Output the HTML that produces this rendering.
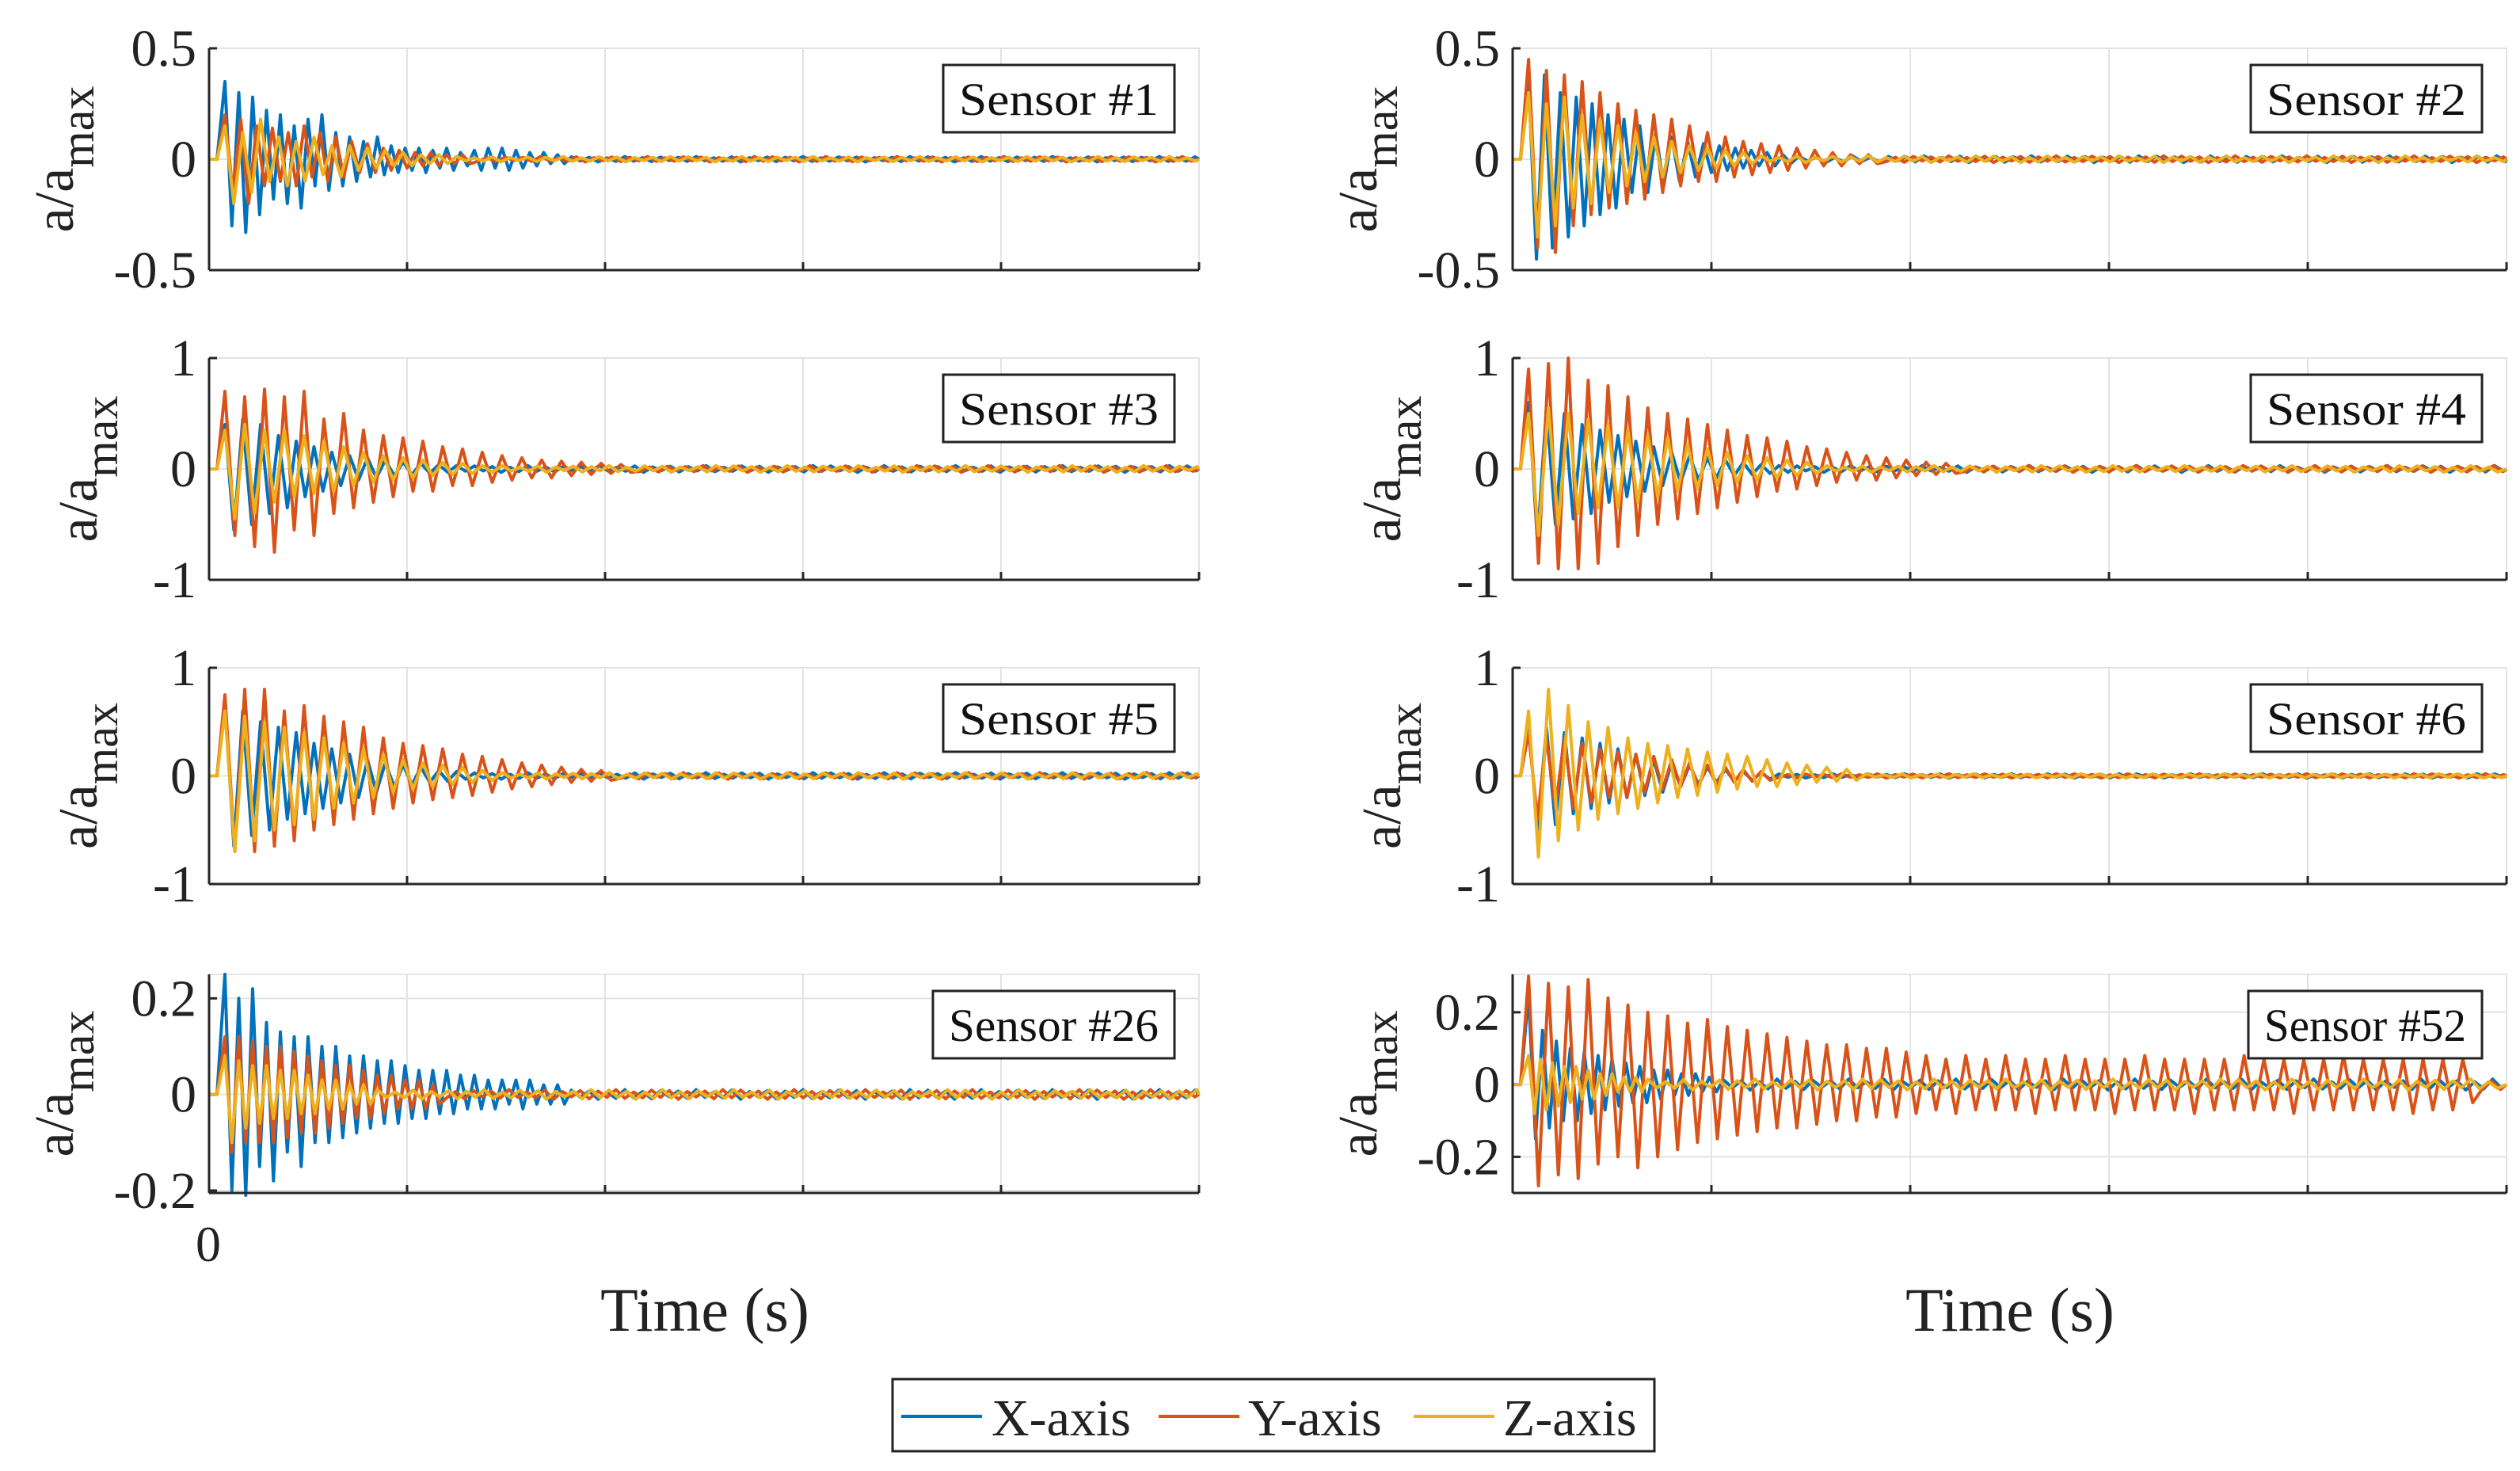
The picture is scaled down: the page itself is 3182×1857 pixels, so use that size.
<!DOCTYPE html>
<html><head><meta charset="utf-8">
<style>
html,body{margin:0;padding:0;background:#fff;}
svg{display:block;font-family:"Liberation Serif",serif;}
</style></head>
<body>
<svg id="fig" width="3182" height="1857" viewBox="0 0 3182 1857" xmlns="http://www.w3.org/2000/svg">
<rect width="3182" height="1857" fill="#fff"/>
<g id="panels"></g>
<text x="263" y="1592" font-size="64" text-anchor="middle" fill="#222">0</text>
<text x="890" y="1680" font-size="78" text-anchor="middle" fill="#222">Time (s)</text>
<text x="2538" y="1680" font-size="78" text-anchor="middle" fill="#222">Time (s)</text>
<g>
<rect x="1127" y="1741" width="962" height="91" fill="#fff" stroke="#222" stroke-width="3"/>
<line x1="1138" y1="1788" x2="1240" y2="1788" stroke="#0072BD" stroke-width="4"/>
<text x="1252" y="1812" font-size="66" fill="#222">X-axis</text>
<line x1="1463" y1="1788" x2="1565" y2="1788" stroke="#D95319" stroke-width="4"/>
<text x="1576" y="1812" font-size="66" fill="#222">Y-axis</text>
<line x1="1785" y1="1788" x2="1887" y2="1788" stroke="#EDB120" stroke-width="4"/>
<text x="1898" y="1812" font-size="66" fill="#222">Z-axis</text>
</g>
</svg>
<script>
const s1X=[0.35,-0.3,0.3,-0.33,0.28,-0.25,0.22,-0.18,0.2,-0.2,0.15,-0.22,0.18,-0.12,0.2,-0.14,0.12,-0.12,0.1,-0.1,0.08,-0.08,0.1,-0.07,0.06,-0.06,0.05,-0.05,0.05,-0.06,0.04,-0.04,0.05,-0.05,0.03,-0.03,0.04,-0.05,0.05,-0.04,0.05,-0.05,0.04,-0.04,0.03,-0.03,0.03,-0.02,0.02,-0.02];
const s1Y=[0.2,-0.15,0.18,-0.2,0.15,-0.12,0.14,-0.1,0.12,-0.12,0.15,-0.08,0.12,-0.1,0.1,-0.08,0.08,-0.06,0.07,-0.06,0.05,-0.05,0.04,-0.04,0.03,-0.03,0.03,-0.03,0.02,-0.02,0.02,-0.02];
const s1Z=[0.15,-0.2,0.12,-0.15,0.18,-0.1,0.1,-0.12,0.08,-0.1,0.1,-0.07,0.06,-0.08,0.06,-0.05,0.05,-0.04,0.04,-0.03,0.03,-0.03,0.02,-0.02,0.02,-0.02];
const s2X=[0.35,-0.45,0.38,-0.4,0.3,-0.35,0.28,-0.3,0.25,-0.25,0.2,-0.22,0.18,-0.15,0.15,-0.15,0.12,-0.12,0.1,-0.1,0.08,-0.08,0.07,-0.06,0.06,-0.05,0.05,-0.04,0.04,-0.03,0.03,-0.03,0.02,-0.02];
const s2Y=[0.45,-0.4,0.4,-0.42,0.38,-0.3,0.35,-0.25,0.3,-0.22,0.25,-0.2,0.22,-0.18,0.2,-0.15,0.18,-0.12,0.15,-0.1,0.12,-0.1,0.1,-0.08,0.08,-0.07,0.07,-0.06,0.06,-0.05,0.05,-0.04,0.04,-0.03,0.03,-0.03,0.02,-0.02,0.02,-0.02];
const s2Z=[0.3,-0.35,0.25,-0.3,0.28,-0.22,0.2,-0.2,0.18,-0.15,0.15,-0.12,0.12,-0.1,0.1,-0.08,0.08,-0.06,0.06,-0.05,0.05,-0.04,0.04,-0.03,0.03,-0.02];
const s3X=[0.4,-0.55,0.45,-0.5,0.4,-0.4,0.3,-0.35,0.25,-0.25,0.2,-0.2,0.15,-0.15,0.12,-0.1,0.1,-0.08,0.08,-0.06,0.06,-0.05,0.05,-0.04,0.04,-0.03,0.03,-0.02];
const s3Y=[0.7,-0.6,0.65,-0.7,0.72,-0.75,0.65,-0.55,0.7,-0.6,0.45,-0.4,0.5,-0.35,0.35,-0.3,0.3,-0.25,0.28,-0.2,0.25,-0.2,0.2,-0.15,0.18,-0.15,0.15,-0.12,0.12,-0.1,0.1,-0.08,0.08,-0.08,0.07,-0.06,0.06,-0.05,0.05,-0.04,0.04,-0.03];
const s3Z=[0.35,-0.45,0.4,-0.4,0.35,-0.3,0.35,-0.25,0.3,-0.22,0.25,-0.2,0.2,-0.15,0.15,-0.12,0.12,-0.1,0.1,-0.08,0.08,-0.06,0.06,-0.05,0.05,-0.04,0.03,-0.03];
const s4X=[0.6,-0.65,0.55,-0.5,0.5,-0.45,0.4,-0.4,0.35,-0.3,0.3,-0.25,0.25,-0.2,0.2,-0.15,0.15,-0.12,0.12,-0.1,0.1,-0.08,0.08,-0.06,0.06,-0.05,0.04,-0.04,0.03,-0.03];
const s4Y=[0.9,-0.85,0.95,-0.9,1.0,-0.9,0.8,-0.85,0.75,-0.7,0.65,-0.6,0.55,-0.5,0.5,-0.45,0.45,-0.4,0.4,-0.35,0.35,-0.3,0.3,-0.25,0.28,-0.2,0.25,-0.18,0.2,-0.15,0.18,-0.12,0.15,-0.1,0.12,-0.1,0.1,-0.08,0.08,-0.06,0.06,-0.05,0.05,-0.04];
const s4Z=[0.5,-0.6,0.55,-0.5,0.5,-0.4,0.45,-0.35,0.4,-0.35,0.35,-0.3,0.3,-0.25,0.28,-0.2,0.22,-0.18,0.18,-0.15,0.15,-0.12,0.12,-0.1,0.1,-0.08,0.08,-0.06,0.06,-0.04];
const s5X=[0.7,-0.65,0.6,-0.55,0.5,-0.5,0.45,-0.4,0.4,-0.35,0.3,-0.3,0.25,-0.25,0.2,-0.2,0.15,-0.15,0.12,-0.1,0.1,-0.08,0.08,-0.06,0.05,-0.05,0.04,-0.03];
const s5Y=[0.75,-0.7,0.8,-0.7,0.8,-0.65,0.6,-0.6,0.65,-0.5,0.55,-0.45,0.5,-0.4,0.45,-0.35,0.35,-0.3,0.3,-0.25,0.28,-0.22,0.25,-0.2,0.2,-0.18,0.18,-0.15,0.15,-0.12,0.12,-0.1,0.1,-0.08,0.08,-0.06,0.06,-0.05,0.05,-0.04];
const s5Z=[0.6,-0.7,0.55,-0.6,0.5,-0.5,0.45,-0.45,0.4,-0.4,0.35,-0.3,0.3,-0.25,0.25,-0.2,0.2,-0.15,0.15,-0.12,0.12,-0.1,0.1,-0.08,0.08,-0.06,0.05,-0.04];
const s6X=[0.5,-0.5,0.45,-0.45,0.4,-0.35,0.35,-0.3,0.3,-0.25,0.25,-0.2,0.2,-0.18,0.15,-0.15,0.12,-0.1,0.1,-0.08,0.08,-0.06,0.06,-0.05,0.04,-0.04,0.03,-0.03];
const s6Y=[0.4,-0.4,0.35,-0.3,0.35,-0.3,0.3,-0.25,0.25,-0.2,0.22,-0.2,0.2,-0.15,0.18,-0.12,0.15,-0.1,0.12,-0.1,0.1,-0.08,0.08,-0.06,0.06,-0.05,0.04,-0.04];
const s6Z=[0.6,-0.75,0.8,-0.6,0.65,-0.5,0.5,-0.4,0.45,-0.35,0.35,-0.3,0.3,-0.25,0.28,-0.2,0.25,-0.18,0.22,-0.15,0.2,-0.12,0.18,-0.1,0.15,-0.1,0.12,-0.08,0.1,-0.06,0.08,-0.05,0.06,-0.04];
const s26X=[0.25,-0.2,0.2,-0.21,0.22,-0.15,0.15,-0.18,0.13,-0.12,0.12,-0.15,0.12,-0.1,0.1,-0.1,0.1,-0.09,0.08,-0.08,0.08,-0.07,0.07,-0.06,0.07,-0.06,0.06,-0.05,0.05,-0.05,0.05,-0.04,0.05,-0.04,0.04,-0.03,0.04,-0.03,0.03,-0.03,0.03,-0.02,0.03,-0.03,0.03,-0.02,0.02,-0.02,0.02,-0.02];
const s26Y=[0.12,-0.12,0.12,-0.1,0.11,-0.1,0.1,-0.1,0.1,-0.09,0.09,-0.08,0.08,-0.08,0.07,-0.07,0.06,-0.06,0.06,-0.05,0.05,-0.05,0.04,-0.04,0.04,-0.03,0.03,-0.03,0.03,-0.03,0.02,-0.02];
const s26Z=[0.08,-0.1,0.07,-0.07,0.06,-0.06,0.06,-0.05,0.05,-0.05,0.05,-0.04,0.04,-0.04,0.03,-0.03,0.03,-0.03,0.02,-0.02,0.02,-0.02];
const s52X=[0.25,-0.15,0.15,-0.12,0.12,-0.1,0.1,-0.1,0.09,-0.08,0.08,-0.07,0.07,-0.06,0.06,-0.05,0.05,-0.05,0.04,-0.04,0.04,-0.03,0.03,-0.03,0.03,-0.02,0.02,-0.02];
const s52Y=[0.3,-0.28,0.28,-0.25,0.27,-0.26,0.29,-0.22,0.24,-0.2,0.22,-0.23,0.2,-0.2,0.19,-0.18,0.17,-0.16,0.18,-0.15,0.16,-0.14,0.15,-0.13,0.14,-0.12,0.13,-0.12,0.12,-0.11,0.11,-0.1,0.11,-0.1,0.1,-0.09,0.1,-0.09,0.09,-0.08,
0.08,-0.07,0.07,-0.08,0.08,-0.07,0.07,-0.07,0.08,-0.07,0.07,-0.08,0.07,-0.07,0.08,-0.07,0.07,-0.07,0.07,-0.08,0.07,-0.07,0.08,-0.07,0.07,-0.07,0.07,-0.08,0.07,-0.07,0.07,-0.07,0.08,-0.07,0.07,-0.07,0.07,-0.08,0.07,-0.07,0.07,-0.07,0.08,-0.07,0.07,-0.07,0.07,-0.07,0.07,-0.08,0.07,-0.07,0.07,-0.07,0.07,-0.05];
const s52Z=[0.08,-0.08,0.07,-0.07,0.06,-0.06,0.05,-0.05,0.05,-0.04,0.04,-0.04,0.03,-0.03,0.03,-0.02,0.02,-0.02,0.02,-0.02];
// low-level residual vibration after the main response (relative to panel tail amplitude)
const tailVals=[0.9,-0.6,0.7,-1,0.5,-0.8,1,-0.7,0.6,-0.9,0.8,-0.5,0.7,-0.8,1,-0.6,0.5,-0.7,0.9,-1,0.6,-0.5,0.8,-0.9,0.7,-0.6,1,-0.8,0.5,-0.7,0.9,-0.6,0.8,-1,0.6,-0.5,0.7,-0.9,1,-0.7];

const sensorNames=["Sensor #1","Sensor #2","Sensor #3","Sensor #4","Sensor #5","Sensor #6","Sensor #26","Sensor #52"];
const yTicks1=[-0.5,0,0.5];
const yTicks2=[-1,0,1];
const yTicks26=[-0.2,0,0.2];
const xTicks=[0,10,20,30,40,50];

const NS="http://www.w3.org/2000/svg";
const colors=["#0072BD","#D95319","#EDB120"];
const panels=[
 {name:0,col:0,row:0,ymin:-0.5,ymax:0.5,ticks:yTicks1,labs:["-0.5","0","0.5"],s:[s1X,s1Y,s1Z],dt:[0.35,0.4,0.45],tail:0.012},
 {name:1,col:1,row:0,ymin:-0.5,ymax:0.5,ticks:yTicks1,labs:["-0.5","0","0.5"],s:[s2X,s2Y,s2Z],dt:[0.4,0.45,0.45],tail:0.015},
 {name:2,col:0,row:1,ymin:-1,ymax:1,ticks:yTicks2,labs:["-1","0","1"],s:[s3X,s3Y,s3Z],dt:[0.45,0.5,0.5],tail:0.03},
 {name:3,col:1,row:1,ymin:-1,ymax:1,ticks:yTicks2,labs:["-1","0","1"],s:[s4X,s4Y,s4Z],dt:[0.45,0.5,0.5],tail:0.03},
 {name:4,col:0,row:2,ymin:-1,ymax:1,ticks:yTicks2,labs:["-1","0","1"],s:[s5X,s5Y,s5Z],dt:[0.45,0.5,0.5],tail:0.03},
 {name:5,col:1,row:2,ymin:-1,ymax:1,ticks:yTicks2,labs:["-1","0","1"],s:[s6X,s6Y,s6Z],dt:[0.45,0.45,0.5],tail:0.02},
 {name:6,col:0,row:3,ymin:-0.205,ymax:0.25,ticks:yTicks26,labs:["-0.2","0","0.2"],s:[s26X,s26Y,s26Z],dt:[0.35,0.35,0.35],tail:0.01},
 {name:7,col:1,row:3,ymin:-0.3,ymax:0.305,ticks:yTicks26,labs:["-0.2","0","0.2"],s:[s52X,s52Y,s52Z],dt:[0.35,0.5,0.3],tail:0.015}
];
const colX=[[264,1514],[1910,3165]];
const rowY=[[61,341],[452,732],[843,1116],[1230,1506]];
const root=document.getElementById('panels');
function mk(tag,attrs,parent){const e=document.createElementNS(NS,tag);for(const k in attrs)e.setAttribute(k,attrs[k]);parent.appendChild(e);return e;}
panels.forEach(p=>{
 const [x0,x1]=colX[p.col],[y0,y1]=rowY[p.row];
 const sx=t=>x0+(t-xTicks[0])/(xTicks[xTicks.length-1]-xTicks[0])*(x1-x0);
 const sy=v=>y1-(v-p.ymin)/(p.ymax-p.ymin)*(y1-y0);
 const g=mk('g',{},root);
 
 
 mk('rect',{x:x0,y:y0,width:x1-x0,height:y1-y0,fill:'#fff',stroke:'#e6e6e6','stroke-width':2},g);
 xTicks.forEach(t=>{const l=mk('line',{x1:sx(t),x2:sx(t),y1:y0,y2:y1,stroke:'#e3e3e3','stroke-width':2},g);
  });
 p.ticks.forEach((v,i)=>{const l=mk('line',{x1:x0,x2:x1,y1:sy(v),y2:sy(v),stroke:'#e3e3e3','stroke-width':2},g);
  
  const tx=mk('text',{x:x0-16,y:sy(v)+22,'font-size':66,'text-anchor':'end',fill:'#222'},g);
  tx.textContent=p.labs[i];
  
  mk('line',{x1:x0,x2:x0+10,y1:sy(v),y2:sy(v),stroke:'#262626','stroke-width':3},g);});
 p.s.forEach((arr,k)=>{
  const t0=0.8,dt=p.dt[k];let pts=[[sx(0),sy(0)],[sx(t0-0.4),sy(0)]];
  arr.forEach((v,i)=>pts.push([sx(t0+i*dt),sy(v)]));
  let t=t0+arr.length*dt, j=k*7;
  while(t<50){pts.push([sx(t),sy(tailVals[j%tailVals.length]*p.tail)]);t+=0.45;j++;}
  pts.push([sx(50),sy(0)]);
  const pl=mk('polyline',{points:pts.map(q=>q[0].toFixed(1)+','+q[1].toFixed(1)).join(' '),fill:'none',stroke:colors[k],'stroke-width':4,'stroke-linejoin':'round'},g);
  
  
 });
 mk('line',{x1:x0,x2:x1,y1:y1,y2:y1,stroke:'#262626','stroke-width':3},g);
 mk('line',{x1:x0,x2:x0,y1:y0,y2:y1,stroke:'#262626','stroke-width':3},g);
 xTicks.forEach(t=>mk('line',{x1:sx(t),x2:sx(t),y1:y1,y2:y1-10,stroke:'#262626','stroke-width':3},g));
 const bw=p.name>=6?(p.name==6?305:295):292;
 const bx=x1-31-bw, by=y0+21;
 const box=mk('rect',{x:bx,y:by,width:bw,height:85,fill:'#fff',stroke:'#222','stroke-width':3},g);
 
 const st=mk('text',{x:bx+bw/2,y:by+63,'font-size':58,'text-anchor':'middle',fill:'#111','textLength':bw-40,'lengthAdjust':'spacingAndGlyphs'},g);
 st.textContent=sensorNames[p.name];
 
 const wide=(p.labs[0].length>2);
 const lx=x0-(wide?172:142), ly=(y0+y1)/2;
 const yl=mk('text',{transform:`translate(${lx},${ly}) rotate(-90)`,'font-size':70,'text-anchor':'middle',fill:'#222'},g);
 
 const a=mk('tspan',{},yl);a.textContent='a/a';
 const b=mk('tspan',{dy:26,'font-size':60},yl);b.textContent='max';
});
</script>
</body></html>
